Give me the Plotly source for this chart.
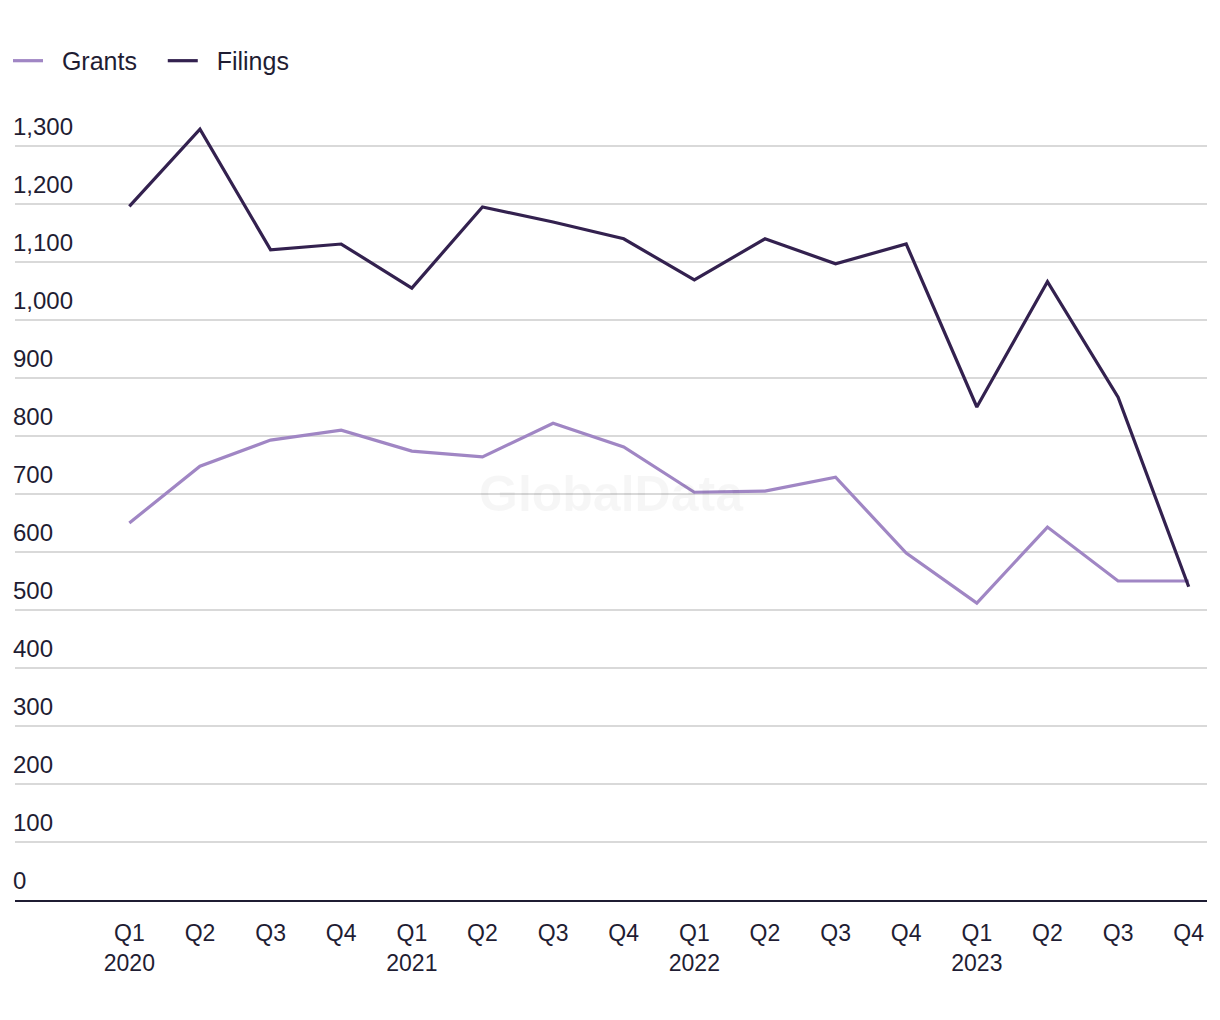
import plotly.graph_objects as go

quarters = ["Q1", "Q2", "Q3", "Q4"] * 4
years = ["2020", "2021", "2022", "2023"]
tick_labels = [q + ("<br>" + years[i // 4] if i % 4 == 0 else "") for i, q in enumerate(quarters)]

grants = [650, 748, 793, 810, 774, 764, 822, 781, 703, 705, 729, 598, 512, 643, 550, 550]
filings = [1196, 1329, 1121, 1131, 1055, 1195, 1169, 1140, 1069, 1140, 1097, 1131, 850, 1066, 867, 540]

y_ticks = list(range(0, 1301, 100))

x_idx = list(range(len(quarters)))

TEXT = "#1f1d33"
FONT = "Liberation Sans"
NB = "\u00a0"

fig = go.Figure()
fig.add_trace(go.Scatter(x=x_idx, y=grants, mode="lines", name=NB * 2 + "Grants" + NB * 3,
                         line=dict(color="#a086c4", width=3.2)))
fig.add_trace(go.Scatter(x=x_idx, y=filings, mode="lines", name=NB * 2 + "Filings",
                         line=dict(color="#33214f", width=3.2)))

fig.add_annotation(text="<b>GlobalData</b>", x=0.5, y=0.5, xref="paper", yref="paper",
                   showarrow=False, font=dict(family=FONT, size=50, color="rgba(0,0,0,0.035)"))

fig.update_layout(
    width=1220, height=1020,
    margin=dict(l=0, r=21, t=80, b=128),
    paper_bgcolor="white", plot_bgcolor="white",
    font=dict(family=FONT, size=24, color=TEXT),
    showlegend=True,
    legend=dict(orientation="h", x=-0.006, xanchor="left", y=1.005, yanchor="bottom",
                font=dict(size=25, color=TEXT), itemwidth=30, traceorder="normal"),
    xaxis=dict(range=[-1.619, 15.259], tickmode="array", tickvals=x_idx, ticktext=tick_labels,
               automargin=False,
               showgrid=False, zeroline=False, showline=True, linecolor=TEXT, linewidth=2,
               ticks="", ticklabelstandoff=11, tickfont=dict(size=23, color=TEXT)),
    yaxis=dict(range=[0, 1400], tickmode="array", tickvals=y_ticks,
               ticktext=[f"{v:,}" for v in y_ticks], ticklabelposition="inside top",
               automargin=False, ticklabelshift=-3, ticklabelstandoff=-5,
               showgrid=True, gridcolor="#d9d9d9", gridwidth=1.5, zeroline=False,
               showline=False, ticks="", tickfont=dict(size=24, color=TEXT)),
)

fig.write_html("out.html")
